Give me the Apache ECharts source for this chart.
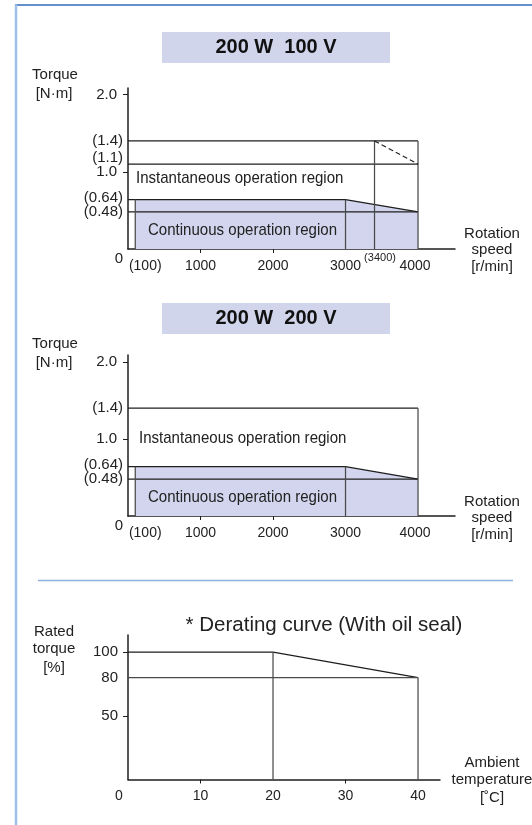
<!DOCTYPE html>
<html>
<head>
<meta charset="utf-8">
<script src="https://cdn.jsdelivr.net/npm/echarts@6/dist/echarts.min.js"></script>
<style>
  html, body { margin: 0; padding: 0; background: #fff; }
  #chart { width: 532px; height: 825px; }
</style>
</head>
<body>
<div id="chart"></div>
<script>
// ---- Torque–speed characteristics, 200 W motor ----
// Tick labels on the speed axis [r/min]
const speedTicks100V = [100, 1000, 2000, 3000, 3400, 4000];
const speedTicks200V = [100, 1000, 2000, 3000, 4000];
// Tick labels on the torque axis [N·m]
const torqueTicks100V = [0, 0.48, 0.64, 1.0, 1.1, 1.4, 2.0];
const torqueTicks200V = [0, 0.48, 0.64, 1.0, 1.4, 2.0];

// Continuous operation region boundary (same for both supplies)
const continuousSpeed = [100, 3000, 4000];
const continuousTorque = [0.64, 0.64, 0.48];

// Instantaneous operation region boundary
const instant100VSpeed = [3400, 4000];
const instant100VTorque = [1.4, 1.1];
const instant200VSpeed = [4000];
const instant200VTorque = [1.4];

// ---- Derating curve (with oil seal) ----
const ambientTemp = [0, 20, 40];
const ratedTorquePct = [100, 100, 80];
const tempTicks = [0, 10, 20, 30, 40];
const pctTicks = [50, 80, 100];

const INK = '#1e1e1e';
const GREY = '#4a4a4a';
const FILL = '#d2d5ed';
const FONT = '"Liberation Sans", Arial, Helvetica, sans-serif';

function seg(grid, pts, style) {
  return {
    type: 'line', xAxisIndex: grid, yAxisIndex: grid, data: pts,
    symbol: 'none', silent: true, z: 3,
    lineStyle: Object.assign({ color: INK, width: 1.25 }, style || {})
  };
}

function area(grid, xs, ys) {
  return {
    type: 'line', xAxisIndex: grid, yAxisIndex: grid,
    data: xs.map((x, i) => [x, ys[i]]),
    symbol: 'none', silent: true, z: 1,
    lineStyle: { width: 0 },
    areaStyle: { color: FILL, opacity: 1, origin: 'start' }
  };
}

// Series drawing one torque–speed diagram
function torqueSeries(grid, instSpeed, instTorque) {
  const s = [];
  const peak = instTorque[0];
  const nMax = continuousSpeed[continuousSpeed.length - 1];
  const nMin = continuousSpeed[0];
  const nRated = continuousSpeed[1];
  const tRated = continuousTorque[0];
  const tEnd = continuousTorque[continuousTorque.length - 1];
  const tPeakEnd = instTorque[instTorque.length - 1];

  s.push(area(grid, continuousSpeed, continuousTorque));
  // continuous region outline
  s.push(seg(grid, [[0, tRated]].concat(continuousSpeed.slice(1).map((x, i) => [x, continuousTorque[i + 1]]))));
  s.push(seg(grid, [[0, tEnd], [nMax, tEnd]]));
  s.push(seg(grid, [[nMin, tRated], [nMin, 0]], { color: GREY }));
  s.push(seg(grid, [[nRated, tRated], [nRated, 0]], { color: GREY }));

  // instantaneous region outline
  s.push(seg(grid, [[0, peak], [nMax, peak]]));
  s.push(seg(grid, [[nMax, peak], [nMax, 0]], { color: GREY }));
  if (instSpeed.length > 1) {
    const knee = instSpeed[0];
    s.push(seg(grid, [[0, tPeakEnd], [nMax, tPeakEnd]]));
    s.push(seg(grid, [[knee, peak], [knee, 0]], { color: GREY }));
    s.push(seg(grid, instSpeed.map((x, i) => [x, instTorque[i]]), { type: [5, 3], width: 1.1 }));
  }
  return s;
}

const axisLineStyle = { show: true, onZero: false, lineStyle: { color: INK, width: 1.5 } };

function xAxisDef(grid, max, labels, ticks, rich, fmt) {
  return {
    type: 'value', gridIndex: grid, min: 0, max: max,
    axisLine: axisLineStyle,
    splitLine: { show: false },
    axisTick: { show: true, customValues: ticks, length: 4, inside: false, lineStyle: { color: INK, width: 1 } },
    axisLabel: {
      customValues: labels, margin: 2, color: '#222', fontFamily: FONT, fontSize: 14,
      formatter: fmt, rich: rich
    }
  };
}

function yAxisDef(grid, max, labels, ticks, rich, fmt, margin) {
  return {
    type: 'value', gridIndex: grid, min: 0, max: max,
    axisLine: axisLineStyle,
    splitLine: { show: false },
    axisTick: { show: true, customValues: ticks, length: 5, lineStyle: { color: INK, width: 1 } },
    axisLabel: {
      customValues: labels, margin: margin, color: '#222', fontFamily: FONT, fontSize: 15,
      formatter: fmt, rich: rich
    }
  };
}

const txt = { fontFamily: FONT, fontSize: 14, color: '#222' };
const ytxt = { fontFamily: FONT, fontSize: 15, color: '#222' };
const speedRich = {
  n: Object.assign({ padding: [8, 0, 0, 0] }, txt),
  l: Object.assign({ padding: [8, 0, 0, 20] }, txt),
  r: Object.assign({ padding: [8, 6, 0, 0] }, txt),
  s: Object.assign({}, txt, { fontSize: 11, padding: [1, 0, 0, 11] })
};
function speedFmt(v) {
  if (v === 100) return '{l|(100)}';
  if (v === 3400) return '{s|(3400)}';
  if (v === 4000) return '{r|4000}';
  return '{n|' + v + '}';
}
const torqueRich = {
  p: Object.assign({}, ytxt),
  n: Object.assign({ padding: [0, 6, 0, 0] }, ytxt),
  z: Object.assign({ padding: [19, 0, 0, 0] }, ytxt),
  u: Object.assign({ padding: [0, 0, 12, 0] }, ytxt),
  h: Object.assign({ padding: [0, 0, 4, 0] }, ytxt)
};
function torqueFmt(v) {
  if (v === 0) return '{z|0}';
  if (v === 1.1) return '{u|(1.1)}';
  if (v === 0.64) return '{h|(0.64)}';
  if (v === 1.0 || v === 2.0) return '{n|' + v.toFixed(1) + '}';
  return '{p|(' + v + ')}';
}
const tempRich = {
  n: Object.assign({ padding: [8, 0, 0, 0] }, txt),
  z: Object.assign({ padding: [8, 18, 0, 0] }, txt)
};
function tempFmt(v) { return v === 0 ? '{z|0}' : '{n|' + v + '}'; }
function pctFmt(v) { return String(v); }

function label(x, y, text, extra, scaleX) {
  return {
    type: 'text', x: x, y: y, z: 20, silent: true, scaleX: scaleX || 1,
    style: Object.assign({ text: text, fill: '#222', font: '15px ' + FONT, align: 'center', verticalAlign: 'middle' }, extra || {})
  };
}
// condensed region captions
function region(x, y, text) {
  return label(x, y, text, { align: 'left', font: '17px ' + FONT }, 0.885);
}

const graphics = [
  // page frame
  { type: 'line', shape: { x1: 15, y1: 5, x2: 532, y2: 5 }, style: { stroke: '#2e6dbd', lineWidth: 1.5 } },
  { type: 'line', shape: { x1: 16, y1: 4.5, x2: 16, y2: 825 }, style: { stroke: '#9fc0e8', lineWidth: 2.5 } },
  // section divider
  { type: 'line', shape: { x1: 38, y1: 580.5, x2: 513, y2: 580.5 }, style: { stroke: '#8eb1dd', lineWidth: 1.5 } },

  // 100 V diagram
  { type: 'rect', shape: { x: 162, y: 32, width: 228, height: 31 }, style: { fill: '#d1d5ec' } },
  label(276, 47.5, '200 W  100 V', { font: 'bold 20px ' + FONT, fill: '#111' }),
  label(55, 75, 'Torque'),
  label(54, 94, '[N·m]'),
  label(492, 234, 'Rotation'),
  label(492, 250, 'speed'),
  label(492, 267, '[r/min]'),
  region(136, 178, 'Instantaneous operation region'),
  region(148, 230, 'Continuous operation region'),

  // 200 V diagram
  { type: 'rect', shape: { x: 162, y: 303, width: 228, height: 31 }, style: { fill: '#d1d5ec' } },
  label(276, 318.5, '200 W  200 V', { font: 'bold 20px ' + FONT, fill: '#111' }),
  label(55, 344, 'Torque'),
  label(54, 363, '[N·m]'),
  label(492, 502, 'Rotation'),
  label(492, 518, 'speed'),
  label(492, 535, '[r/min]'),
  region(139, 438, 'Instantaneous operation region'),
  region(148, 497, 'Continuous operation region'),

  // derating curve
  label(324, 625, '* Derating curve (With oil seal)', { font: '20.5px ' + FONT }),
  label(54, 632, 'Rated'),
  label(54, 649, 'torque'),
  label(54, 668, '[%]'),
  label(492, 763, 'Ambient'),
  label(492, 780, 'temperature'),
  label(492, 798, '[˚C]')
];

const option = {
  animation: false,
  backgroundColor: '#fff',
  textStyle: { fontFamily: FONT },
  grid: [
    { left: 128, top: 88, width: 327, height: 161, outerBoundsMode: 'none' },
    { left: 128, top: 355, width: 327, height: 161, outerBoundsMode: 'none' },
    { left: 128, top: 635, width: 312, height: 144.5, outerBoundsMode: 'none' }
  ],
  xAxis: [
    xAxisDef(0, 4510, speedTicks100V, [1000, 2000], speedRich, speedFmt),
    xAxisDef(1, 4510, speedTicks200V, [1000, 2000], speedRich, speedFmt),
    xAxisDef(2, 43.03, tempTicks, [10, 30], tempRich, tempFmt)
  ],
  yAxis: [
    yAxisDef(0, 161 / 77.2, torqueTicks100V, [1.0, 2.0], torqueRich, torqueFmt, 5),
    yAxisDef(1, 161 / 77.0, torqueTicks200V, [1.0, 2.0], torqueRich, torqueFmt, 5),
    yAxisDef(2, 144.5 / 1.274, pctTicks, [50, 100], {}, pctFmt, 10)
  ],
  series: []
    .concat(torqueSeries(0, instant100VSpeed, instant100VTorque))
    .concat(torqueSeries(1, instant200VSpeed, instant200VTorque))
    .concat([
      seg(2, ambientTemp.map((t, i) => [t, ratedTorquePct[i]])),
      seg(2, [[0, ratedTorquePct[2]], [ambientTemp[2], ratedTorquePct[2]]], { color: GREY }),
      seg(2, [[ambientTemp[1], ratedTorquePct[1]], [ambientTemp[1], 0]], { color: GREY }),
      seg(2, [[ambientTemp[2], ratedTorquePct[2]], [ambientTemp[2], 0]], { color: GREY })
    ]),
  graphic: graphics
};

const chart = echarts.init(document.getElementById('chart'), null, { renderer: 'canvas' });
chart.setOption(option);
</script>
</body>
</html>
